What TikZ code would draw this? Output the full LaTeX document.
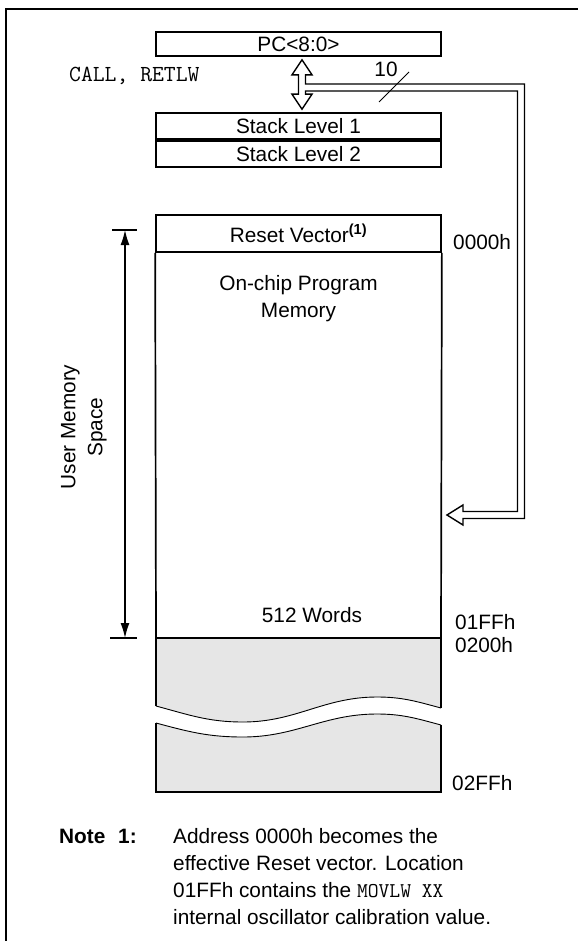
\documentclass[tikz,border=0pt]{standalone}
\usepackage{fontspec}
\setmainfont{Liberation Sans}
\usetikzlibrary{positioning, calc, arrows.meta}
\definecolor{cShade}{HTML}{E6E6E6}
\newcommand{\lbl}{\fontsize{20.8}{27}\selectfont}

\begin{document}
\begin{tikzpicture}[
    x=1pt, y=-1pt,
    >=Latex,
    regbox/.style={draw, line width=1.7pt, minimum width=285pt, minimum height=26pt,
        inner sep=0pt, font=\lbl},
    addr/.style={anchor=west, inner sep=0pt, font=\lbl},
    txt/.style={inner sep=0pt, font=\lbl, align=center},
    bus/.style={line width=1.4pt, fill=white, line join=miter},
    dim/.style={<->, line width=1.4pt, >={Latex[length=15pt, width=9pt]}},
]
\useasboundingbox (0,0) rectangle (578,941);

% =============================================
% FRAME (open on the right and at the bottom)
% =============================================
\draw[line width=2.4pt] (6,941) -- (6,9) -- (578,9);

% =============================================
% PC AND STACK
% =============================================
\node[regbox, minimum height=24pt] (pc) at (298.5,44) {PC<8:0>};
\node[regbox] (stackA) at (298.5,126) {Stack Level 1};
\node[regbox, below=0pt of stackA] (stackB) {Stack Level 2};
\node[inner sep=0pt, font=\ttfamily\fontsize{23}{26}\selectfont, anchor=west] (callret) at (69,76) {CALL, RETLW};

% =============================================
% PROGRAM MEMORY
% =============================================
\node[regbox, minimum height=37pt] (reset) at (298.5,233.5) {Reset Vector\textsuperscript{\textbf{(1)}}};
\coordinate (memBL) at (156,638);
\coordinate (memBR) at (441,638);
\draw[line width=1.7pt] (reset.south west) -- (memBL) -- (memBR) -- (reset.south east);
\node[txt] (onchip) at (298.5,299) {On-chip Program\\Memory};
\node[txt] (words) at (312,615) {512 Words};

% unimplemented space, broken by a wave
\coordinate (shTL) at (156,638);
\coordinate (shTR) at (441,638);
\coordinate (shBL) at (156,792);
\coordinate (shBR) at (441,792);
\fill[cShade] (shTL) -- (shTR) -- (441,708)
    to[out=165, in=0] (377,697) to[out=180, in=0] (243,722) to[out=180, in=-15] (156,706) -- cycle;
\fill[cShade] (shBL) -- (shBR) -- (441,725)
    to[out=165, in=0] (377,714) to[out=180, in=0] (243,737) to[out=180, in=-15] (156,723) -- cycle;
\draw[line width=1.7pt] (156,706) -- (shTL) -- (shTR) -- (441,708);
\draw[line width=1.7pt] (156,723) -- (shBL) -- (shBR) -- (441,725);
\draw[line width=0.9pt] (156,706) to[out=-15, in=180] (243,722) to[out=0, in=180] (377,697) to[out=0, in=165] (441,708);
\draw[line width=0.9pt] (156,723) to[out=-15, in=180] (243,737) to[out=0, in=180] (377,714) to[out=0, in=165] (441,725);

% addresses
\node[addr] (a0000) at (453,242) {0000h};
\node[addr] (a01FF) at (455,622) {01FFh};
\node[addr] (a0200) at (455,645) {0200h};
\node[addr] (a02FF) at (452,783) {02FFh};

% =============================================
% USER MEMORY SPACE dimension
% =============================================
\coordinate (dimtop) at (125,230);
\coordinate (dimbot) at (125,638);
\draw[line width=1.4pt] ($(dimtop)+(-13,0)$) -- ($(dimtop)+(12,0)$);
\draw[line width=1.4pt] ($(dimbot)+(-15,0)$) -- ($(dimbot)+(12,0)$);
\draw[dim] (dimtop) -- (dimbot);
\node[txt, rotate=90] (userspace) at (84,427) {User Memory\\Space};

% =============================================
% BUS: PC <-> STACK, and 10-bit path into memory
% =============================================
\def\busY{515}
\coordinate (tipUp) at ($(pc.south)+(3.5,3)$);
\coordinate (tipDn) at ($(stackA.north)+(3.5,-3)$);
\draw[bus] (tipUp) -- ++(10,15) -- ++(-6.5,0) |- (524.5,84)
    -- (524.5,\busY+3.5) -- (463,\busY+3.5) -- (463,\busY+10) -- (447,\busY)
    -- (463,\busY-10) -- (463,\busY-3.5) -- (517.5,\busY-3.5) -- (517.5,91)
    -- (305.5,91) |- ($(tipDn)+(10,-15)$) -- (tipDn) -- ++(-10,-15) -- ++(6.5,0)
    |- ($(tipUp)+(-10,15)$) -- cycle;
\node[inner sep=0pt, font=\lbl] (width) at (386,69) {10};
\draw[line width=1pt] (379,102) -- (409,72);

% =============================================
% NOTE
% =============================================
\node[anchor=base west, inner sep=0pt, font=\lbl\bfseries] (notelbl) at (59,843.5) {Note};
\node[anchor=base west, inner sep=0pt, font=\lbl\bfseries] (notenum) at (118,843.5) {1:};
\node[anchor=north west, inner sep=0pt, font=\lbl, align=left] (notetxt) at (173,828.3)
    {Address 0000h becomes the\\
     effective Reset vector. Location\\
     01FFh contains the {\ttfamily\fontsize{21}{27}\selectfont MOVLW\ XX}\\
     internal oscillator calibration value.};

\end{tikzpicture}
\end{document}
